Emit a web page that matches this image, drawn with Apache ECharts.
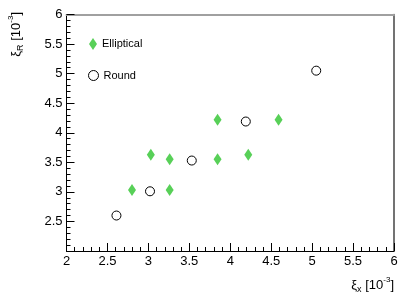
<!DOCTYPE html>
<html>
<head>
<meta charset="utf-8">
<script src="https://cdn.jsdelivr.net/npm/echarts@6/dist/echarts.min.js"></script>
<style>html,body{margin:0;padding:0;background:#fff;}#c{width:415px;height:300px;}</style>
</head>
<body>
<div id="c"></div>
<script>
var ellipticalX = [2.80, 3.03, 3.26, 3.26, 3.845, 3.845, 4.22, 4.59];
var ellipticalY = [3.03, 3.63, 3.55, 3.03, 4.22, 3.55, 3.63, 4.22];
var roundX = [2.61, 3.02, 3.53, 4.19, 5.05];
var roundY = [2.60, 3.01, 3.53, 4.19, 5.05];
var xTicks = ['2', '2.5', '3', '3.5', '4', '4.5', '5', '5.5', '6'];
var yTicks = ['2', '2.5', '3', '3.5', '4', '4.5', '5', '5.5', '6'];
var seriesNames = ['Elliptical', 'Round'];

function pairs(xs, ys) { return xs.map(function (x, i) { return [x, ys[i]]; }); }

var FONT = '"Liberation Sans", Arial, sans-serif';
var chart = echarts.init(document.getElementById('c'), null, { renderer: 'canvas' });
var axisCommon = {
  type: 'value', min: 2, max: 6, interval: 0.5,
  axisLine: { show: true, lineStyle: { color: '#000', width: 1 } },
  axisTick: { show: true, inside: true, length: 8, lineStyle: { color: '#000', width: 1 } },
  minorTick: { show: true, splitNumber: 5, length: 4, lineStyle: { color: '#000', width: 1 } },
  splitLine: { show: false },
  axisLabel: { fontFamily: FONT, fontSize: 13, color: '#000', margin: 4,
    formatter: function (v) { return String(Math.round(v * 10) / 10); } }
};
var richBase = {
  b: { fontFamily: FONT, fontSize: 13, color: '#000', lineHeight: 18, verticalAlign: 'middle' },
  s: { fontFamily: FONT, fontSize: 9, color: '#000', lineHeight: 18, verticalAlign: 'bottom' },
  p: { fontFamily: FONT, fontSize: 8, color: '#000', lineHeight: 18, verticalAlign: 'top' }
};
chart.setOption({
  animation: false,
  grid: { left: 66.5, right: 21, top: 14.5, bottom: 49 },
  legend: [
    { data: [{ name: seriesNames[0], icon: 'diamond' }], orient: 'vertical', left: 89, top: 38,
      itemWidth: 8, itemHeight: 12, textStyle: { fontFamily: FONT, fontSize: 11, color: '#000' }, padding: 0 },
    { data: [{ name: seriesNames[1], icon: 'circle', itemStyle: { color: '#fff', borderColor: '#000', borderWidth: 1 } }],
      orient: 'vertical', left: 88, top: 70,
      itemWidth: 10, itemHeight: 10, textStyle: { fontFamily: FONT, fontSize: 11, color: '#000' }, padding: 0 }
  ],
  xAxis: [
    Object.assign({}, axisCommon, { position: 'bottom' }),
    { type: 'value', min: 2, max: 6, position: 'top',
      axisLine: { show: true, lineStyle: { color: '#a0a0a0', width: 2 } },
      axisTick: { show: false }, axisLabel: { show: false }, splitLine: { show: false } }
  ],
  yAxis: [
    Object.assign({}, axisCommon, { position: 'left',
      axisLabel: Object.assign({}, axisCommon.axisLabel, { showMinLabel: false }) }),
    { type: 'value', min: 2, max: 6, position: 'right',
      axisLine: { show: true, lineStyle: { color: '#444', width: 1.5 } },
      axisTick: { show: false }, axisLabel: { show: false }, splitLine: { show: false } }
  ],
  series: [
    { name: seriesNames[0], type: 'scatter', xAxisIndex: 0, yAxisIndex: 0,
      symbol: 'diamond', symbolSize: [8, 12],
      itemStyle: { color: '#58d058', opacity: 1 },
      data: pairs(ellipticalX, ellipticalY) },
    { name: seriesNames[1], type: 'scatter', xAxisIndex: 0, yAxisIndex: 0,
      symbol: 'circle', symbolSize: 9,
      itemStyle: { color: '#fff', borderColor: '#000', borderWidth: 1, opacity: 1 },
      data: pairs(roundX, roundY) }
  ],
  graphic: [
    { type: 'text', right: 21, top: 276,
      style: { text: '{b|ξ}{s|x}{b| [10}{p|-3}{b|]}', rich: richBase } },
    { type: 'text', x: 16, y: 12, rotation: Math.PI / 2,
      style: { text: '{b|ξ}{s|R}{b| [10}{p|-3}{b|]}', rich: richBase, align: 'right', verticalAlign: 'middle' } }
  ]
});
</script>
</body>
</html>
